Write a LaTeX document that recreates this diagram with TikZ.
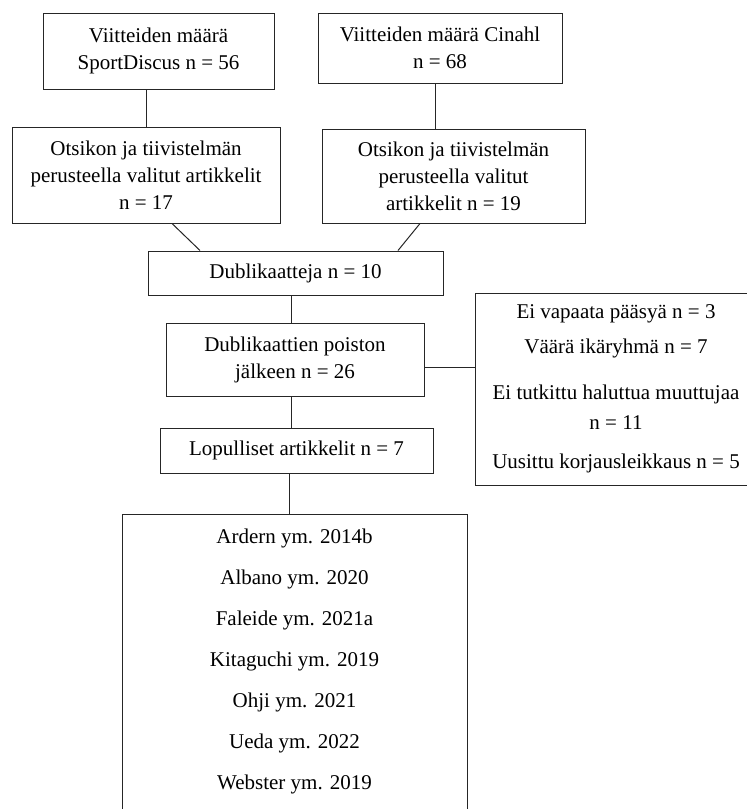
\documentclass[tikz,border=0pt]{standalone}
\usepackage{fontspec}
\setmainfont{Liberation Serif}
\begin{document}
\begin{tikzpicture}[x=1pt,y=-1pt,
  box/.style={draw=black!85, line width=1pt, align=center, inner sep=0pt,
    font=\fontsize{21}{27}\selectfont},
  conn/.style={draw=black!85, line width=1pt}]
\useasboundingbox (0,0) rectangle (747,809);
\node[box, minimum width=231pt, minimum height=76pt] (b1) at (158.5,51)
  {Viitteiden määrä\\SportDiscus n = 56};
\node[box, minimum width=244pt, minimum height=70pt] (b2) at (440,48)
  {Viitteiden määrä Cinahl\\n = 68};
\node[box, minimum width=268pt, minimum height=96pt] (b3) at (146,175)
  {Otsikon ja tiivistelmän\\perusteella valitut artikkelit\\n = 17};
\node[box, minimum width=263pt, minimum height=94pt] (b4) at (453.5,176)
  {Otsikon ja tiivistelmän\\perusteella valitut\\artikkelit n = 19};
\node[box, minimum width=295pt, minimum height=44pt] (b5) at (295.5,273)
  {Dublikaatteja n = 10};
\node[box, minimum width=258pt, minimum height=73pt] (b6) at (295,359.5)
  {Dublikaattien poiston\\jälkeen n = 26};
\node[box, minimum width=282pt, minimum height=192pt,
  font=\fontsize{21}{30}\selectfont] (b7) at (616,389)
  {Ei vapaata pääsyä n = 3\\[5pt]Väärä ikäryhmä n = 7\\[16pt]Ei tutkittu haluttua muuttujaa\\n = 11\\[9pt]Uusittu korjausleikkaus n = 5};
\node[box, minimum width=273pt, minimum height=45pt] (b8) at (296.5,450.5)
  {Lopulliset artikkelit n = 7};
\node[box, minimum width=345pt, minimum height=316pt, anchor=north,
  font=\fontsize{21}{41}\selectfont] (b9) at (294.5,514) {};
\node[align=center, anchor=north, inner sep=0pt, font=\fontsize{21}{41}\selectfont] (list) at (294.5,529)
  {Ardern ym. 2014b\\Albano ym. 2020\\Faleide ym. 2021a\\Kitaguchi ym. 2019\\Ohji ym. 2021\\Ueda ym. 2022\\Webster ym. 2019};
\coordinate (e6) at ([yshift=-7.5pt]b6.east);
\draw[conn] (b3.north) -- (b3.north |- b1.south);
\draw[conn] ([xshift=-5pt]b2.south) -- ([xshift=-5pt]b2.south |- b4.north);
\draw[conn] ([xshift=26pt]b3.south) -- ([xshift=-95.5pt]b5.north);
\draw[conn] ([xshift=-33.5pt]b4.south) -- ([xshift=102.5pt]b5.north);
\draw[conn] ([xshift=-4pt]b5.south) -- ([xshift=-4pt]b5.south |- b6.north);
\draw[conn] (e6) -- (b7.west |- e6);
\draw[conn] ([xshift=-4pt]b6.south) -- ([xshift=-4pt]b6.south |- b8.north);
\draw[conn] ([xshift=-7.5pt]b8.south) -- ([xshift=-7.5pt]b8.south |- b9.north);
\end{tikzpicture}
\end{document}
